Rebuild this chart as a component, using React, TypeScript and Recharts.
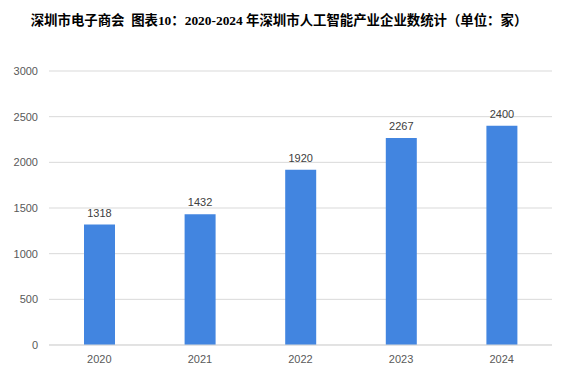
import { BarChart, Bar, XAxis, YAxis, CartesianGrid, LabelList } from 'recharts';

const YEARS = ['2020', '2021', '2022', '2023', '2024'];
const COMPANIES = [1318, 1432, 1920, 2267, 2400];
const Y_TICKS = [0, 500, 1000, 1500, 2000, 2500, 3000];

const TITLE = '深圳市电子商会  图表10：2020-2024 年深圳市人工智能产业企业数统计（单位：家）';

const chartData = YEARS.map((year, i) => ({ year, count: COMPANIES[i] }));

export default function App() {
    return (
        <div style={{ position: 'absolute', left: 0, top: 0, width: 575, height: 382, background: '#fff' }}>
            <div
                style={{
                    position: 'absolute',
                    left: 0,
                    top: 9,
                    width: 558,
                    textAlign: 'center',
                    fontFamily: '"Liberation Serif", "Noto Sans CJK SC", serif',
                    fontWeight: 'bold',
                    fontSize: 13.4,
                    color: '#000',
                    whiteSpace: 'pre',
                }}
            >
                {TITLE}
            </div>
            <BarChart
                width={575}
                height={382}
                data={chartData}
                margin={{ top: 71, right: 23, bottom: 17, left: 0 }}
                style={{ fontFamily: '"Liberation Sans", Arial, sans-serif' }}
            >
                <CartesianGrid vertical={false} stroke="#d9d9d9" />
                <XAxis
                    dataKey="year"
                    tickLine={false}
                    axisLine={{ stroke: '#d9d9d9' }}
                    tick={{ fontSize: 11, fill: '#595959' }}
                    tickMargin={4}
                    height={20}
                />
                <YAxis
                    domain={[0, 3000]}
                    ticks={Y_TICKS}
                    tickLine={false}
                    axisLine={false}
                    tick={{ fontSize: 11, fill: '#595959' }}
                    tickMargin={5}
                    width={49}
                />
                <Bar dataKey="count" fill="#4285e0" barSize={31} isAnimationActive={false}>
                    <LabelList dataKey="count" position="top" offset={8} fontSize={11} fill="#404040" />
                </Bar>
            </BarChart>
        </div>
    );
}
